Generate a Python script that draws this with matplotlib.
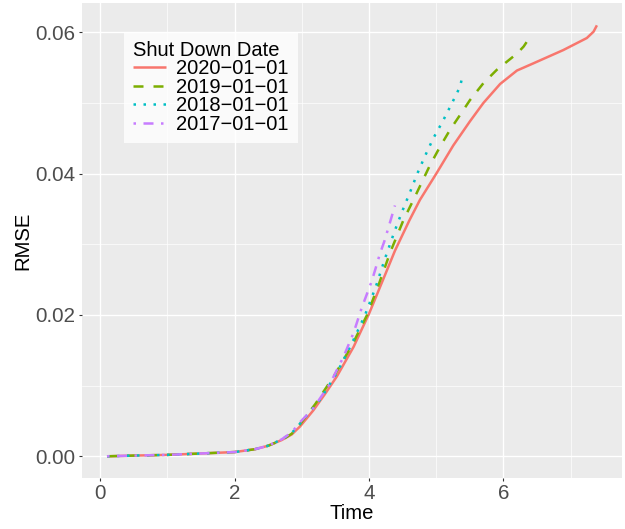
import matplotlib
matplotlib.use("Agg")
import matplotlib.pyplot as plt
from matplotlib.ticker import FixedLocator

plt.rcParams['font.family'] = ['Liberation Sans', 'DejaVu Sans']

# ---- data ----
labels = ["2020\u221201\u221201", "2019\u221201\u221201", "2018\u221201\u221201", "2017\u221201\u221201"]
colors = ["#F8766D", "#7CAE00", "#00BFC4", "#C77CFF"]

x_2020 = [0.10, 0.50, 1.00, 1.50, 2.00, 2.30, 2.50, 2.70, 2.85, 2.97, 3.17, 3.35, 3.52, 3.77,
          4.00, 4.26, 4.385, 4.60, 4.757, 5.006, 5.253, 5.50, 5.70, 5.95, 6.20, 6.44, 6.89,
          7.24, 7.34, 7.39]
y_2020 = [0.0000, 0.0001, 0.0002, 0.0004, 0.0006, 0.0010, 0.0015, 0.0023, 0.0031, 0.0042,
          0.0065, 0.0089, 0.0113, 0.0155, 0.0202, 0.0262, 0.0291, 0.0334, 0.0363, 0.0401,
          0.0440, 0.0474, 0.0500, 0.0527, 0.0546, 0.0556, 0.0575, 0.0592, 0.0601, 0.0610]

x_2019 = [0.10, 0.50, 1.00, 1.50, 2.00, 2.30, 2.50, 2.70, 2.85, 2.97, 3.20, 3.50, 3.75, 3.97,
          4.15, 4.32, 4.51, 4.66, 4.906, 5.055, 5.204, 5.353, 5.50, 5.70, 5.90, 6.20, 6.30, 6.37]
y_2019 = [0.0000, 0.0001, 0.0002, 0.0004, 0.0006, 0.0010, 0.0015, 0.0023, 0.0032, 0.0045,
          0.0074, 0.0117, 0.0158, 0.0200, 0.0245, 0.0290, 0.0334, 0.0363, 0.0412, 0.0438,
          0.0462, 0.0483, 0.0504, 0.0528, 0.0547, 0.0570, 0.0580, 0.0590]

x_2018 = [0.10, 0.50, 1.00, 1.50, 2.00, 2.30, 2.50, 2.70, 2.85, 2.97, 3.27, 3.52, 3.72, 3.94,
          4.10, 4.237, 4.385, 4.494, 4.61, 4.717, 4.832, 4.955, 5.095, 5.229, 5.353, 5.387]
y_2018 = [0.0000, 0.0001, 0.0002, 0.0004, 0.0006, 0.0010, 0.0015, 0.0024, 0.0033, 0.0046,
          0.0080, 0.0118, 0.0155, 0.0200, 0.0240, 0.0280, 0.0320, 0.0347, 0.0374, 0.0400,
          0.0425, 0.0450, 0.0474, 0.0499, 0.0523, 0.0537]

x_2017 = [0.10, 0.50, 1.00, 1.50, 2.00, 2.30, 2.50, 2.70, 2.85, 2.97, 3.17, 3.42, 3.62, 3.77,
          3.89, 4.04, 4.10, 4.162, 4.226, 4.286, 4.385]
y_2017 = [0.0000, 0.0001, 0.0002, 0.0004, 0.0006, 0.0010, 0.0015, 0.0024, 0.0034, 0.0048,
          0.0068, 0.0103, 0.0141, 0.0175, 0.0210, 0.0248, 0.0267, 0.0287, 0.0304, 0.0323,
          0.0355]

xs = [x_2020, x_2019, x_2018, x_2017]
ys = [y_2020, y_2019, y_2018, y_2017]
dashes = [None, (4, 4), (1, 3), (1, 3, 4, 3)]

x_ticks = [0, 2, 4, 6]
y_ticks = [0.00, 0.02, 0.04, 0.06]
y_ticklabels = ["0.00", "0.02", "0.04", "0.06"]

# ---- figure ----
fig = plt.figure(figsize=(6.25, 5.29), dpi=100)
ax = fig.add_axes([82 / 625, 1 - 477.7 / 529, (621.5 - 82) / 625, (477.7 - 3) / 529])
ax.set_facecolor("#EBEBEB")
for s in ax.spines.values():
    s.set_visible(False)

for x, y, c, lab, d in zip(xs, ys, colors, labels, dashes):
    line, = ax.plot(x, y, color=c, lw=1.8, label=lab, solid_capstyle='butt',
                    dash_capstyle='butt', solid_joinstyle='round', zorder=3)
    if d is not None:
        line.set_dashes(d)

ax.set_xlim(-0.272, 7.756)
ax.set_ylim(-0.00303, 0.06416)

ax.xaxis.set_major_locator(FixedLocator(x_ticks))
ax.xaxis.set_minor_locator(FixedLocator([1, 3, 5, 7]))
ax.yaxis.set_major_locator(FixedLocator(y_ticks))
ax.yaxis.set_minor_locator(FixedLocator([0.01, 0.03, 0.05]))
ax.set_yticklabels(y_ticklabels)

ax.grid(which='major', color='white', lw=1.0, zorder=0)
ax.grid(which='minor', color='white', lw=0.5, zorder=0)
ax.set_axisbelow(True)

ax.tick_params(axis='both', which='major', length=2.5, width=0.8, color='#333333',
               labelsize=14.8, labelcolor='#4D4D4D', pad=2)
ax.tick_params(axis='both', which='minor', length=0)

ax.set_xlabel("Time", fontsize=14.6, color='black', labelpad=1)
ax.set_ylabel("RMSE", fontsize=14.6, color='black', labelpad=2)

leg = ax.legend(title="Shut Down Date", loc='upper left', bbox_to_anchor=(0.0778, 0.939),
                borderaxespad=0, fontsize=14.5, title_fontsize=14.5, frameon=True,
                fancybox=False, handlelength=1.65, handletextpad=0.5, labelspacing=-0.03,
                borderpad=0.45, alignment='left')
frame = leg.get_frame()
frame.set_facecolor((1, 1, 1, 0.4))
frame.set_edgecolor('none')

fig.savefig("out.png", dpi=100)
